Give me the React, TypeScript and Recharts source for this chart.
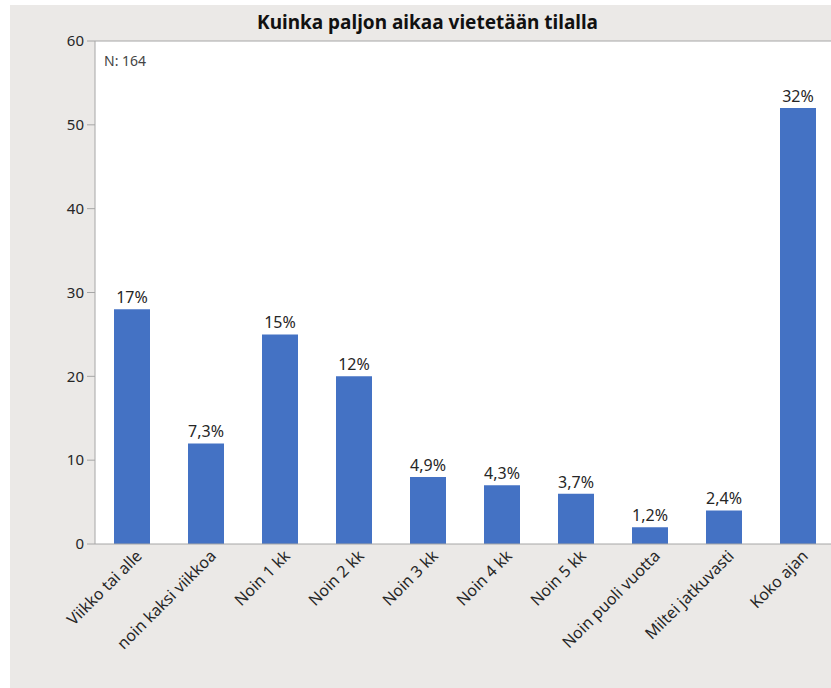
import { BarChart, Bar, XAxis, YAxis, CartesianGrid, LabelList, ReferenceLine } from 'recharts';

const categories = [
  'Viikko tai alle',
  'noin kaksi viikkoa',
  'Noin 1 kk',
  'Noin 2 kk',
  'Noin 3 kk',
  'Noin 4 kk',
  'Noin 5 kk',
  'Noin puoli vuotta',
  'Miltei jatkuvasti',
  'Koko ajan',
];
const counts = [28, 12, 25, 20, 8, 7, 6, 2, 4, 52];
const percents = ['17%', '7,3%', '15%', '12%', '4,9%', '4,3%', '3,7%', '1,2%', '2,4%', '32%'];
const yTicks = [0, 10, 20, 30, 40, 50, 60];

const data = categories.map((name, i) => ({ name, count: counts[i], pct: percents[i] }));

const AXIS_GREY = '#a6a6a6';
const TEXT = '#262626';

function XTick({ x, y, payload }: any) {
  const tx = x + 11;
  const ty = y + 13;
  return (
    <text x={tx} y={ty} transform={`rotate(-45 ${tx} ${ty})`} textAnchor="end" fontSize={16} fill={TEXT}>
      {payload.value}
    </text>
  );
}

export default function App() {
  return (
    <div
      style={{
        position: 'absolute', left: 0, top: 0, width: 831, height: 688, overflow: 'hidden',
        background: '#fff', fontFamily: "'Noto Sans', sans-serif",
      }}
    >
      <div style={{ position: 'absolute', left: 10, top: 5, width: 830, height: 690, background: '#ebe9e7' }} />
      <div style={{ position: 'absolute', left: 0, top: 0 }}>
        <BarChart width={840} height={688} data={data} margin={{ top: 41, right: 5, bottom: 44, left: 35 }}>
          <CartesianGrid horizontal={false} vertical={false} fill="#fff" />
          <ReferenceLine y={60} stroke={AXIS_GREY} />
          <XAxis
            dataKey="name" height={100} interval={0} tickLine={false} tickSize={0} tickMargin={0}
            axisLine={{ stroke: AXIS_GREY }} tick={<XTick />}
          />
          <YAxis
            width={60} domain={[0, 60]} ticks={yTicks} tickSize={8} tickMargin={3}
            tickLine={{ stroke: AXIS_GREY }} axisLine={{ stroke: AXIS_GREY }}
            tick={{ fontSize: 15, fill: TEXT }}
          />
          <Bar dataKey="count" fill="#4472c4" barSize={36} isAnimationActive={false}>
            <LabelList dataKey="pct" position="top" offset={6} fontSize={16} fill={TEXT} />
          </Bar>
        </BarChart>
      </div>
      <div
        style={{
          position: 'absolute', left: 0, width: 855, top: 9, textAlign: 'center',
          fontSize: 19, fontWeight: 700, color: '#111',
        }}
      >
        Kuinka paljon aikaa vietetään tilalla
      </div>
      <div style={{ position: 'absolute', left: 104, top: 51, fontSize: 14, color: '#444' }}>N: 164</div>
    </div>
  );
}
